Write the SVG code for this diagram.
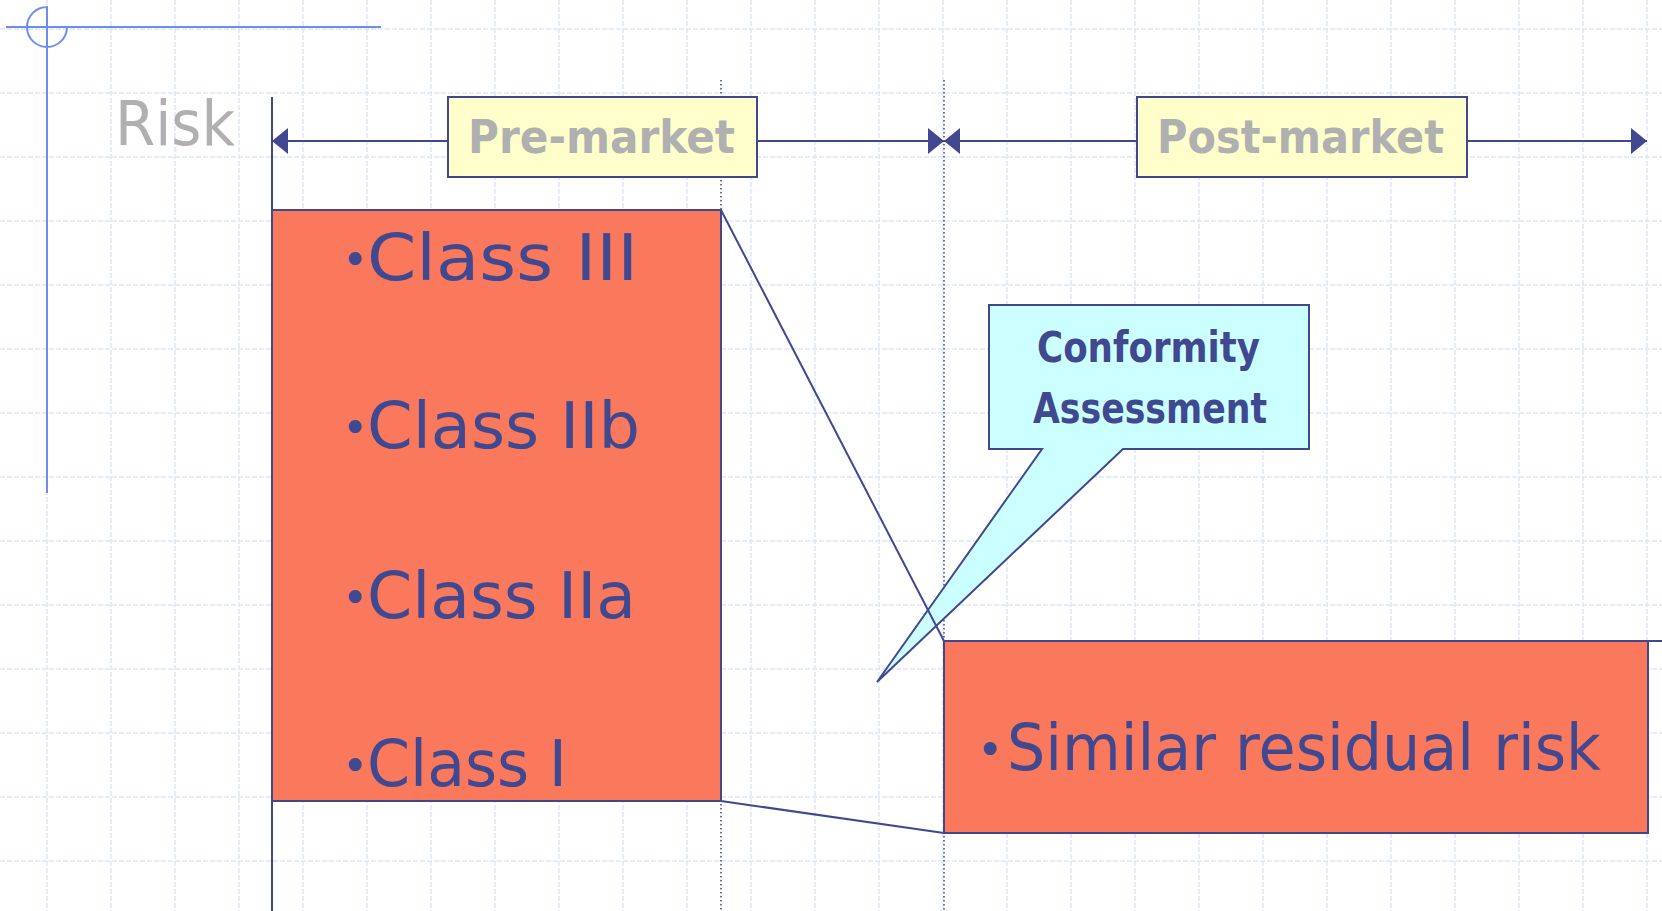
<svg xmlns="http://www.w3.org/2000/svg" width="1662" height="911" viewBox="0 0 1662 911">
<style>
.grid{stroke:#dfe6fb;stroke-width:1.5;stroke-dasharray:5 2;fill:none}
.mark{stroke:#6f8cf2;stroke-width:2;fill:none}
.nv{stroke:#404890;stroke-width:2;fill:none}
.dot{stroke:#404890;stroke-width:1.5;stroke-dasharray:1.5 2.5;fill:none}
.red{fill:#fa785c;stroke:#404890;stroke-width:2}
.lbl{fill:#ffffcc;stroke:#404890;stroke-width:2}
.call{fill:#ccffff;stroke:#404890;stroke-width:2}
.t{font-family:"Comic Sans MS","DejaVu Sans",sans-serif}
.gray{fill:#b0b0b0}
.navy{fill:#404890}
.bul{font-size:44px}
</style>
<defs>
<marker id="ah" markerUnits="userSpaceOnUse" markerWidth="16" markerHeight="26" refX="16" refY="13" orient="auto">
<path d="M0 0L16 13L0 26Z" fill="#404890"/>
</marker>
</defs>
<rect width="1662" height="911" fill="#ffffff"/>
<g id="grid">
<path class="grid" d="M47 0V911M111 0V911M175 0V911M239 0V911M303 0V911M367 0V911M431 0V911M495 0V911M559 0V911M623 0V911M687 0V911M751 0V911M815 0V911M879 0V911M943 0V911M1007 0V911M1071 0V911M1135 0V911M1199 0V911M1263 0V911M1327 0V911M1391 0V911M1455 0V911M1519 0V911M1583 0V911M1647 0V911"/>
<path class="grid" d="M0 29H1662M0 93H1662M0 157H1662M0 221H1662M0 285H1662M0 349H1662M0 413H1662M0 477H1662M0 541H1662M0 605H1662M0 669H1662M0 733H1662M0 797H1662M0 861H1662"/>
</g>
<g id="corner-mark">
<path class="mark" d="M6 27H381M47 6V493M47 7A20 20 0 1 0 67 27"/>
</g>
<g id="guides">
<path class="dot" d="M721 80V911M944 80V911"/>
<path class="nv" d="M272 97V911"/>
</g>
<g id="risk-label">
<text class="t gray" x="115" y="145" font-size="62" textLength="120" lengthAdjust="spacingAndGlyphs">Risk</text>
</g>
<g id="arrows">
<line class="nv" x1="448" y1="141" x2="272" y2="141" marker-end="url(#ah)"/>
<line class="nv" x1="757" y1="141" x2="944" y2="141" marker-end="url(#ah)"/>
<line class="nv" x1="1137" y1="141" x2="944" y2="141" marker-end="url(#ah)"/>
<line class="nv" x1="1467" y1="141" x2="1647" y2="141" marker-end="url(#ah)"/>
</g>
<g id="pre-market">
<rect class="lbl" x="448" y="97" width="309" height="80"/>
<text class="t gray" x="468" y="153" font-size="46" font-weight="bold" textLength="267" lengthAdjust="spacingAndGlyphs">Pre-market</text>
</g>
<g id="post-market">
<rect class="lbl" x="1137" y="97" width="330" height="80"/>
<text class="t gray" x="1157" y="153" font-size="46" font-weight="bold" textLength="287" lengthAdjust="spacingAndGlyphs">Post-market</text>
</g>
<g id="classes">
<rect class="red" x="272" y="210" width="449" height="591"/>
<text class="t navy bul" x="342" y="275">•</text>
<text class="t navy" x="367" y="280" font-size="64" textLength="271" lengthAdjust="spacingAndGlyphs">Class III</text>
<text class="t navy bul" x="342" y="443">•</text>
<text class="t navy" x="367" y="448" font-size="64" textLength="273" lengthAdjust="spacingAndGlyphs">Class IIb</text>
<text class="t navy bul" x="342" y="613">•</text>
<text class="t navy" x="367" y="618" font-size="64" textLength="269" lengthAdjust="spacingAndGlyphs">Class IIa</text>
<text class="t navy bul" x="342" y="781">•</text>
<text class="t navy" x="367" y="786" font-size="64" textLength="200" lengthAdjust="spacingAndGlyphs">Class I</text>
</g>
<g id="residual">
<rect class="red" x="944" y="641" width="704" height="192"/>
<path class="nv" d="M1648 641H1662"/>
<text class="t navy bul" x="977" y="765">•</text>
<text class="t navy" x="1007" y="770" font-size="64" textLength="594" lengthAdjust="spacingAndGlyphs">Similar residual risk</text>
</g>
<g id="conformity">
<path class="call" d="M989 305H1309V449H1123L877 682L1042 449H989Z"/>
<text class="t navy" x="1037" y="362" font-size="42" font-weight="bold" textLength="223" lengthAdjust="spacingAndGlyphs">Conformity</text>
<text class="t navy" x="1033" y="423" font-size="42" font-weight="bold" textLength="234" lengthAdjust="spacingAndGlyphs">Assessment</text>
</g>
<g id="connectors">
<line class="nv" x1="721" y1="210" x2="944" y2="641"/>
<line class="nv" x1="721" y1="801" x2="944" y2="833"/>
</g>
</svg>
